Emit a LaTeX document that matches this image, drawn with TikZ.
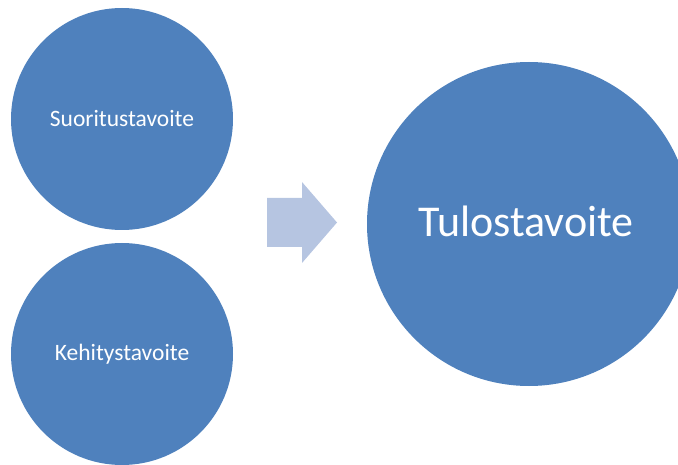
\documentclass[tikz,border=0pt]{standalone}
\usepackage{fontspec}
\setmainfont{Carlito}
\definecolor{circblue}{RGB}{79,129,189}
\definecolor{arrowblue}{RGB}{182,197,225}
\begin{document}
\begin{tikzpicture}[x=1pt,y=-1pt,
  goal/.style={circle,fill=circblue,draw=none,inner sep=0pt,text=white,align=center},
  smallgoal/.style={goal,minimum size=222pt,font=\fontsize{23.5}{27}\selectfont},
  biggoal/.style={goal,minimum size=324pt},
  bigtext/.style={text=white,inner sep=0pt,font=\fontsize{44}{50}\selectfont},
  blockarrow/.style={fill=arrowblue,draw=none}]
\useasboundingbox (0,0) rectangle (678,465);
\clip (0,0) rectangle (678,465);
\node[smallgoal] (suoritus) at (122,119) {Suoritustavoite};
\node[smallgoal] (kehitys) at (122,354) {Kehitystavoite};
\node[biggoal] (tulos) at (529,224) {};
\node[bigtext] (tulostext) at ([xshift=-3pt,yshift=3pt]tulos.center) {Tulostavoite};
\fill[blockarrow] (267,198) -- (302,198) -- (302,182) -- (337,222.5) -- (302,263) -- (302,247) -- (267,247) -- cycle;
\end{tikzpicture}
\end{document}
